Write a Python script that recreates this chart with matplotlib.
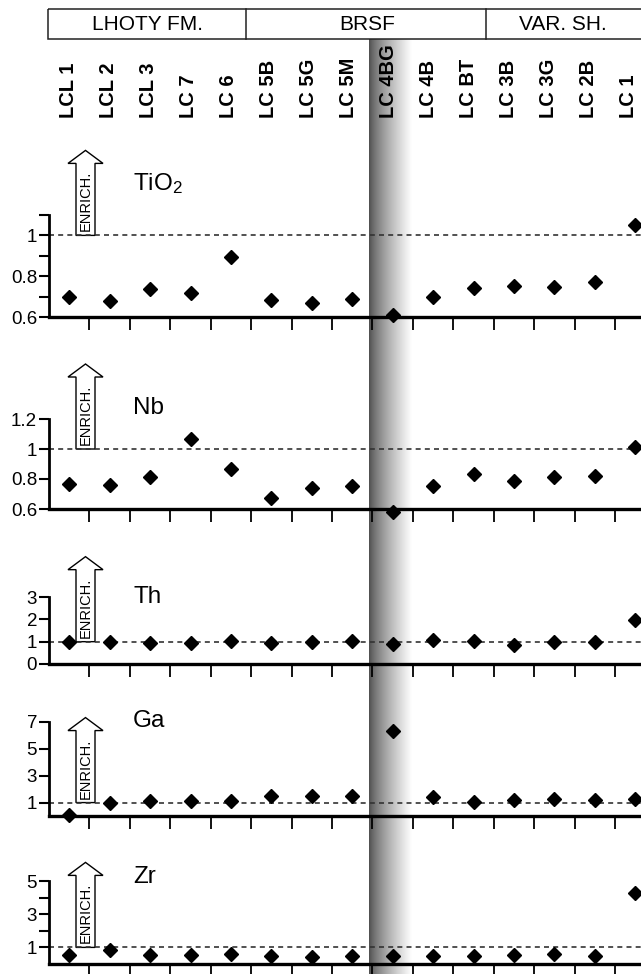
import numpy as np
import matplotlib
matplotlib.use("Agg")
import matplotlib.pyplot as plt
from matplotlib.patches import Polygon, Rectangle

plt.rcParams['font.family'] = ['Liberation Sans', 'DejaVu Sans']
plt.rcParams['mathtext.fontset'] = 'custom'
plt.rcParams['mathtext.rm'] = 'Liberation Sans'
plt.rcParams['mathtext.default'] = 'regular'

# samples, left to right
samples = ['LCL 1', 'LCL 2', 'LCL 3', 'LC 7', 'LC 6', 'LC 5B', 'LC 5G', 'LC 5M',
           'LC 4BG', 'LC 4B', 'LC BT', 'LC 3B', 'LC 3G', 'LC 2B', 'LC 1']
units = ['LHOTY FM.', 'BRSF', 'VAR. SH.']
unit_sizes = [5, 6, 4]
shaded = 'LC 4BG'

# enrichment factors
tio2 = [0.70, 0.68, 0.735, 0.72, 0.895, 0.685, 0.67, 0.69, 0.61, 0.70, 0.74, 0.752, 0.748, 0.77, 1.05]
nb = [0.765, 0.76, 0.815, 1.07, 0.865, 0.67, 0.74, 0.75, 0.58, 0.75, 0.835, 0.785, 0.815, 0.82, 1.015]
th = [1.0, 0.99, 0.92, 0.95, 1.04, 0.95, 1.0, 1.04, 0.88, 1.08, 1.04, 0.83, 1.0, 1.0, 1.95]
ga = [0.1, 0.95, 1.15, 1.15, 1.1, 1.5, 1.5, 1.5, 6.3, 1.4, 1.05, 1.2, 1.3, 1.2, 1.25]
zr = [0.55, 0.85, 0.52, 0.52, 0.58, 0.46, 0.42, 0.46, 0.46, 0.46, 0.46, 0.52, 0.62, 0.5, 4.25]

W, H = 641, 974
fig = plt.figure(figsize=(W / 100, H / 100), dpi=100)

# background axes in pixel coords (y down)
bg = fig.add_axes([0, 0, 1, 1], zorder=0)
bg.set_xlim(0, W)
bg.set_ylim(H, 0)
bg.axis('off')

x0, step = 49, 40.0   # left spine pixel, pixels per sample
def px(i):
    return x0 + (i + 0.5) * step

xmax = (W - x0) / step - 0.5

# grey band behind the shaded sample
k = samples.index(shaded)
grad = np.linspace(0, 1, 200)
grad = 0.3 + 0.7 * grad ** 0.75
bg.imshow(grad[None, :], cmap='gray', vmin=0, vmax=1, aspect='auto',
          extent=(px(k) - step / 2, px(k) + step / 2 + 3, H, 39), interpolation='bilinear')

# header box with units
top, bot = 9, 39
bg.add_patch(Rectangle((x0 - 1, top), W, bot - top, fill=False, lw=1.1, ec='#222222'))
start = 0
for name, n in zip(units, unit_sizes):
    left = x0 + start * step
    right = x0 + (start + n) * step
    if start > 0:
        bg.plot([left - 3, left - 3], [top, bot], color='#222222', lw=1.1)
    bg.text((left + min(right, W)) / 2 - 2, (top + bot) / 2 + 1, name, ha='center', va='center', fontsize=15)
    start += n

for i, s in enumerate(samples):
    bg.text(px(i), 118, s, rotation=90, ha='center', va='bottom', fontsize=14.5, fontweight='bold')

# panels: label, values, ylim, ticks, labelled ticks, axes top/bottom (px), title y (px)
panels = [
    ('TiO$_2$', tio2, (0.6, 1.1), np.arange(0.6, 1.15, 0.1), [0.6, 0.8, 1.0], 215, 317, 184),
    ('Nb', nb, (0.6, 1.2), [0.6, 0.8, 1.0, 1.2], [0.6, 0.8, 1.0, 1.2], 419, 509, 408),
    ('Th', th, (0, 3), [0, 1, 2, 3], [0, 1, 2, 3], 597, 664, 597),
    ('Ga', ga, (0, 7), [1, 3, 5, 7], [1, 3, 5, 7], 722, 816, 721),
    ('Zr', zr, (0, 5), [1, 2, 3, 4, 5], [1, 3, 5], 881, 964, 877),
]

def fmt(v):
    return ('%g' % round(v, 2))

for name, vals, ylim, ticks, labelled, ptop, pbot, ty in panels:
    ax = fig.add_axes([x0 / W, 1 - pbot / H, (W - x0) / W + 0.01, (pbot - ptop) / H], zorder=1)
    ax.set_facecolor('none')
    ax.set_xlim(-0.5, xmax)
    ax.set_ylim(*ylim)
    for sp in ['top', 'right']:
        ax.spines[sp].set_visible(False)
    ax.spines['left'].set_linewidth(2.0)
    ax.spines['bottom'].set_linewidth(2.4)
    ax.set_xticks(np.arange(0.5, len(samples) - 1, 1.0))
    ax.set_xticklabels([])
    ax.tick_params(axis='x', direction='out', length=9, width=1.3)
    ax.set_yticks(ticks)
    ax.set_yticklabels([fmt(t) if any(abs(t - l) < 1e-6 for l in labelled) else '' for t in ticks])
    ax.tick_params(axis='y', direction='out', length=7, width=1.5, pad=1.5, labelsize=13.5)
    ax.axhline(1, color='#333333', lw=1.2, ls=(0, (3, 2.5)), zorder=1)
    ax.plot(range(len(samples)), vals, 'D', color='black', ms=6.8, clip_on=False, zorder=3)

    # title and enrichment arrow
    bg.text(133, ty, name, ha='left', va='center', fontsize=17.5)
    yb = H - ax.transData.transform((0, 1))[1]
    cx, sw, hw, hh, L = 85.5, 9.5, 17.5, 13, 85
    pts = [(cx - sw, yb), (cx - sw, yb - L + hh), (cx - hw, yb - L + hh), (cx, yb - L),
           (cx + hw, yb - L + hh), (cx + sw, yb - L + hh), (cx + sw, yb)]
    bg.add_patch(Polygon(pts, closed=True, fc='white', ec='black', lw=1.0, zorder=2))
    bg.text(cx + 0.5, yb - 4, 'ENRICH.', rotation=90, ha='center', va='bottom', fontsize=10.5, zorder=3)

fig.savefig('out.png', dpi=100)
